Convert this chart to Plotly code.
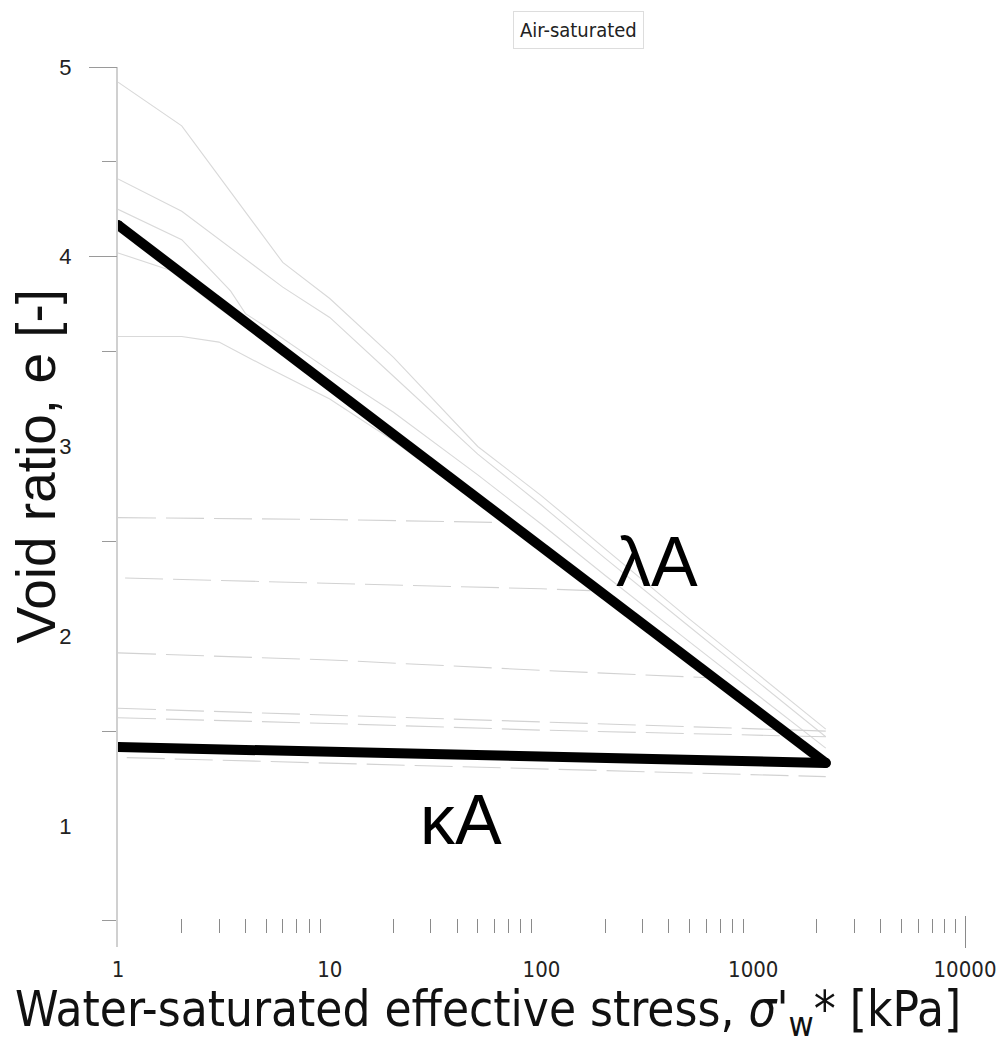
import plotly.graph_objects as go

# Compression (loading) curves of the individual specimens: stress [kPa] vs void ratio
stress_A = [1, 2, 6, 10, 20, 50, 100, 200, 500, 1000, 2200]
void_A = [4.92, 4.69, 3.97, 3.78, 3.47, 3.00, 2.74, 2.46, 2.09, 1.82, 1.51]

stress_B = [1, 2, 6, 10, 20, 50, 100, 200, 500, 1000, 2200]
void_B = [4.41, 4.24, 3.84, 3.68, 3.37, 2.96, 2.69, 2.41, 2.05, 1.78, 1.47]

stress_C = [1, 2, 3.4, 4, 5, 10, 20, 50, 100, 200, 500, 1000, 2200]
void_C = [4.25, 4.09, 3.82, 3.70, 3.63, 3.40, 3.18, 2.85, 2.59, 2.32, 1.97, 1.71, 1.41]

stress_D = [1, 2, 3, 5, 10, 20, 50, 100, 200, 500, 1000, 2200]
void_D = [3.58, 3.58, 3.55, 3.42, 3.25, 3.03, 2.70, 2.45, 2.19, 1.86, 1.61, 1.34]

stress_E = [1, 1.75, 3, 5, 10, 20, 50, 100, 200, 500, 1000, 2200]
void_E = [4.02, 3.93, 3.73, 3.55, 3.29, 3.04, 2.71, 2.45, 2.20, 1.86, 1.61, 1.36]

# Unloading / reloading branches (dashed)
stress_ur_a = [1, 10, 60]
void_ur_a = [2.625, 2.615, 2.60]

stress_ur_b = [1.08, 10, 100, 170]
void_ur_b = [2.307, 2.28, 2.25, 2.24]

stress_ur_c = [1, 10, 100, 650]
void_ur_c = [1.912, 1.875, 1.82, 1.78]

stress_ur_d = [1, 10, 100, 2200]
void_ur_d = [1.62, 1.585, 1.55, 1.50]

stress_ur_e = [1, 10, 100, 2200]
void_ur_e = [1.57, 1.54, 1.505, 1.47]

stress_ur_f = [1.1, 10, 100, 2200]
void_ur_f = [1.36, 1.33, 1.30, 1.26]

# Idealised compression lines
stress_lambda = [1, 2200]
void_lambda = [4.167, 1.332]
stress_kappa = [1, 2200]
void_kappa = [1.416, 1.332]

# Axis tick definitions
y_labels = [1, 2, 3, 4, 5]
y_long_ticks = [4, 5]
y_short_ticks = [0.5, 1.5, 2.5, 3.5, 4.5]
x_labels = [1, 10, 100, 1000, 10000]
x_minor_ticks = [m * d for d in (1, 10, 100, 1000) for m in range(2, 10)]
x_end_tick = [10000]

fig = go.Figure()

solid_curves = [(stress_A, void_A), (stress_B, void_B), (stress_C, void_C),
                (stress_D, void_D), (stress_E, void_E)]
for sx, sy in solid_curves:
    fig.add_trace(go.Scatter(x=sx, y=sy, mode="lines",
                             line=dict(color="#d9d9d9", width=1.1),
                             showlegend=False, hoverinfo="skip"))

dashed_curves = [(stress_ur_a, void_ur_a), (stress_ur_b, void_ur_b), (stress_ur_c, void_ur_c),
                 (stress_ur_d, void_ur_d), (stress_ur_e, void_ur_e), (stress_ur_f, void_ur_f)]
for sx, sy in dashed_curves:
    fig.add_trace(go.Scatter(x=sx, y=sy, mode="lines",
                             line=dict(color="#d2d2d2", width=1.1, dash="38px,10px"),
                             showlegend=False, hoverinfo="skip"))

for sx, sy in [(stress_lambda, void_lambda), (stress_kappa, void_kappa)]:
    fig.add_trace(go.Scatter(x=sx, y=sy, mode="lines+markers",
                             line=dict(color="black", width=10),
                             marker=dict(color="black", size=10),
                             showlegend=False, hoverinfo="skip"))

# empty traces that carry the extra tick axes
fig.add_trace(go.Scatter(x=[], y=[], xaxis="x2", showlegend=False))
fig.add_trace(go.Scatter(x=[], y=[], xaxis="x3", showlegend=False))
fig.add_trace(go.Scatter(x=[], y=[], yaxis="y2", showlegend=False))

x_range = [0, 4]
y_range = [0.362, 5]

fig.update_layout(
    width=1008, height=1046,
    margin=dict(l=118, r=38, t=67, b=99),
    plot_bgcolor="white", paper_bgcolor="white",
    showlegend=False,
    xaxis=dict(type="log", range=x_range, tickvals=x_labels,
               ticktext=[str(v) for v in x_labels], ticks="",
               showline=False, showgrid=False, zeroline=False,
               tickfont=dict(family="DejaVu Sans Condensed", size=22, color="#222"),
               ticklabelstandoff=7),
    xaxis2=dict(type="log", range=x_range, overlaying="x", anchor="free",
                position=0.033, side="bottom", tickvals=x_minor_ticks,
                ticks="outside", ticklen=14, tickwidth=1, tickcolor="#8a8a8a",
                showticklabels=False, showline=False, showgrid=False, zeroline=False),
    xaxis3=dict(type="log", range=x_range, overlaying="x", anchor="free",
                position=0.0364, side="bottom", tickvals=x_end_tick,
                ticks="outside", ticklen=32, tickwidth=1, tickcolor="#8a8a8a",
                showticklabels=False, showline=False, showgrid=False, zeroline=False),
    yaxis=dict(range=y_range, tickvals=y_labels, ticks="",
               showline=True, linecolor="#d0d0d0", linewidth=2,
               showgrid=False, zeroline=False,
               tickfont=dict(family="Liberation Sans", size=22, color="#222"),
               ticklabelstandoff=40,
               minor=dict(tickmode="array", tickvals=y_short_ticks, ticks="outside",
                          ticklen=14, tickwidth=1, tickcolor="#9a9a9a", showgrid=False)),
    yaxis2=dict(range=y_range, overlaying="y", anchor="x", side="left",
                tickvals=y_long_ticks, ticks="outside", ticklen=28, tickwidth=1,
                tickcolor="#9a9a9a", showticklabels=False, showline=False,
                showgrid=False, zeroline=False),
    annotations=[
        dict(text="λA", x=2.545, y=2.391, xref="x", yref="y", showarrow=False,
             font=dict(family="Liberation Sans", size=70, color="black")),
        dict(text="κA", x=1.62, y=1.03, xref="x", yref="y", showarrow=False,
             font=dict(family="Liberation Sans", size=70, color="black")),
        dict(text="Air-saturated", x=0.544, y=1.042, xref="paper", yref="paper",
             xanchor="center", yanchor="middle",
             showarrow=False, bordercolor="#dddddd", borderwidth=1, borderpad=6,
             bgcolor="white",
             font=dict(family="DejaVu Sans Condensed", size=20, color="#222")),
        dict(text="Void ratio, e [-]", x=-0.0974, y=0.5466, xref="paper", yref="paper",
             xanchor="center", yanchor="middle",
             showarrow=False, textangle=-90,
             font=dict(family="Liberation Sans", size=55, color="#111")),
        dict(text="Water-saturated effective stress, <i>σ</i>'<sub>w</sub>* [kPa]",
             x=0.4366, y=-0.0739, xref="paper", yref="paper", showarrow=False,
             xanchor="center", yanchor="middle",
             font=dict(family="DejaVu Sans Condensed", size=49, color="#111")),
    ],
)

fig.write_html("out.html")
